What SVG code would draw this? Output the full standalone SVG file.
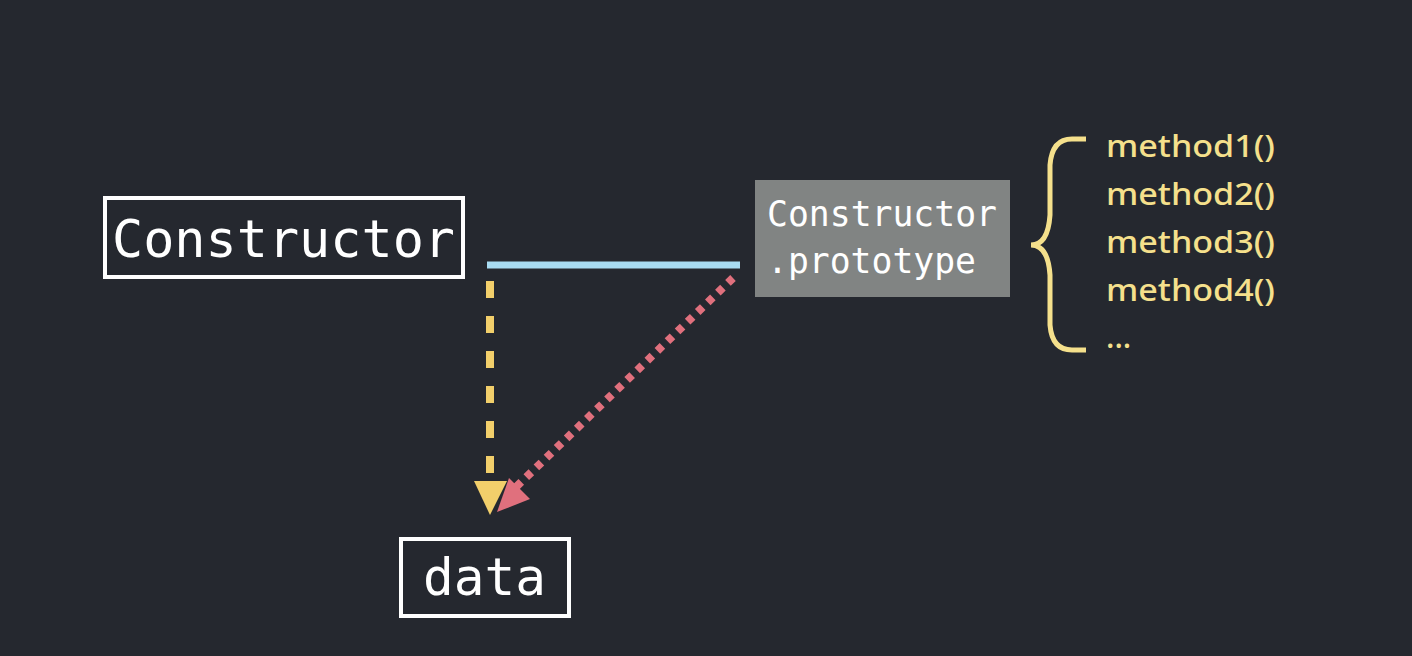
<svg xmlns="http://www.w3.org/2000/svg" width="1412" height="656" viewBox="0 0 1412 656">
<defs>
<style>
.mono{font-family:"DejaVu Sans Mono","Liberation Mono",monospace;fill:#ffffff}
.meth{font-family:"Noto Sans","Liberation Sans",sans-serif;font-size:31px;font-weight:500;fill:#f5e08c}
.box{fill:none;stroke:#ffffff;stroke-width:4}
</style>
</defs>
<rect width="1412" height="656" fill="#25282f"/>
<g id="constructor">
<rect class="box" x="105" y="198" width="358" height="79"/>
<text class="mono" x="112" y="257" font-size="52" textLength="343" lengthAdjust="spacingAndGlyphs">Constructor</text>
</g>
<g id="prototype">
<rect x="755" y="180" width="255" height="117" fill="#818483"/>
<text class="mono" x="767" y="226" font-size="35" textLength="230" lengthAdjust="spacingAndGlyphs">Constructor</text>
<text class="mono" x="767" y="273" font-size="35" textLength="209" lengthAdjust="spacingAndGlyphs">.prototype</text>
</g>
<g id="data">
<rect class="box" x="401" y="539" width="168" height="77"/>
<text class="mono" x="423" y="595" font-size="51" textLength="123" lengthAdjust="spacingAndGlyphs">data</text>
</g>
<g id="methods">
<path d="M1086,139 H1072 Q1052,139 1050,165 V215 Q1048,245 1031,245 Q1048,245 1050,275 V325 Q1052,350 1072,350 H1086" fill="none" stroke="#f5e08c" stroke-width="5"/>
<text class="meth" x="1106" y="157" textLength="169" lengthAdjust="spacingAndGlyphs">method1()</text>
<text class="meth" x="1106" y="205" textLength="169" lengthAdjust="spacingAndGlyphs">method2()</text>
<text class="meth" x="1106" y="253" textLength="169" lengthAdjust="spacingAndGlyphs">method3()</text>
<text class="meth" x="1106" y="301" textLength="169" lengthAdjust="spacingAndGlyphs">method4()</text>
<text class="meth" x="1106" y="348">...</text>
</g>
<g id="connectors">
<line x1="487" y1="265" x2="740" y2="265" stroke="#a8dcf2" stroke-width="7"/>
<line x1="490" y1="281" x2="490" y2="476" stroke="#f2cf6b" stroke-width="8" stroke-dasharray="17,18"/>
<polygon points="474,481 507,481 490,515" fill="#f2cf6b"/>
<line x1="733" y1="278" x2="515" y2="488" stroke="#e0707d" stroke-width="8" stroke-dasharray="7,7"/>
<polygon points="509,478 530,499 497,512" fill="#e0707d"/>
</g>
</svg>
